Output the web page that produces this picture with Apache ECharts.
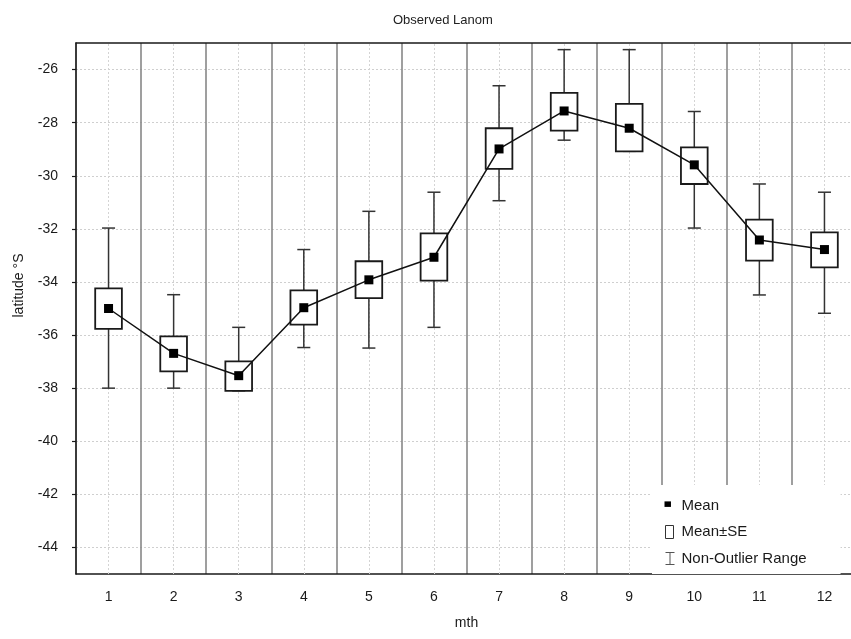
<!DOCTYPE html>
<html>
<head>
<meta charset="utf-8">
<script src="https://cdn.jsdelivr.net/npm/echarts@6/dist/echarts.min.js"></script>
<style>
  html, body { margin: 0; padding: 0; background: #fff; }
  #chart { width: 851px; height: 639px; }
</style>
</head>
<body>
<div id="chart"></div>
<script>
// ---- data ----
const months = ['1', '2', '3', '4', '5', '6', '7', '8', '9', '10', '11', '12'];
const means = [-35.00, -36.69, -37.53, -34.97, -33.92, -33.07, -28.99, -27.56, -28.21, -29.59, -32.42, -32.78];
const seLow = [-35.77, -37.37, -38.10, -35.61, -34.61, -33.95, -29.74, -28.30, -29.08, -30.31, -33.20, -33.45];
const seHigh = [-34.24, -36.05, -36.99, -34.32, -33.22, -32.17, -28.21, -26.88, -27.29, -28.93, -31.65, -32.13];
const rangeMin = [-38.00, -38.00, -38.10, -36.47, -36.49, -35.71, -30.94, -28.66, -29.08, -31.97, -34.49, -35.18];
const rangeMax = [-31.97, -34.48, -35.71, -32.78, -31.34, -30.62, -26.61, -25.25, -25.25, -27.58, -30.31, -30.62];
const yTicks = [-44, -42, -40, -38, -36, -34, -32, -30, -28, -26];

const FONT = '"Liberation Sans", Arial, sans-serif';
const chart = echarts.init(document.getElementById('chart'));

const whiskerData = months.map((m, i) => [i, rangeMin[i], rangeMax[i]]);
const boxData = months.map((m, i) => [i, seLow[i], seHigh[i]]);

const option = {
  animation: false,
  backgroundColor: '#fff',
  title: {
    text: 'Observed Lanom',
    left: 388, top: 9,
    textStyle: { fontFamily: FONT, fontSize: 13, fontWeight: 'normal', color: '#222' }
  },
  grid: { left: 76, top: 43, width: 781, height: 531, containLabel: false, outerBoundsMode: 'none' },
  legend: {
    orient: 'vertical', left: 652, top: 485,
    padding: [12, 34, 6, 10], itemGap: 8, itemWidth: 12, itemHeight: 14,
    backgroundColor: '#fff', selectedMode: false,
    textStyle: { fontFamily: FONT, fontSize: 15, color: '#1a1a1a', lineHeight: 18 },
    data: [
      { name: 'Mean', icon: 'path://M0,0M12,14M-1,2L6,2L6,8L-1,8Z', itemStyle: { color: '#000', borderWidth: 0 } },
      { name: 'Mean±SE', icon: 'path://M0,0M12,14M1,0.5L9,0.5L9,13.5L1,13.5Z', itemStyle: { color: '#fff', borderColor: '#333', borderWidth: 1 } },
      { name: 'Non-Outlier Range', icon: 'path://M0,0M12,14M1,1L10,1M5.5,1L5.5,13M1,13L10,13', itemStyle: { color: 'none', borderColor: '#555', borderWidth: 1 } }
    ]
  },
  xAxis: [
    {
      type: 'category', data: months, position: 'bottom', boundaryGap: true,
      axisLine: { lineStyle: { color: '#1a1a1a', width: 1.5 } },
      axisTick: { inside: true, alignWithLabel: true, length: 4, lineStyle: { color: '#1a1a1a', width: 1.2 } },
      axisLabel: { fontFamily: FONT, fontSize: 14, color: '#1a1a1a', margin: 16 },
      splitLine: { show: true, lineStyle: { color: '#878787', width: 1.6 } },
      name: 'mth', nameLocation: 'middle', nameGap: 42,
      nameTextStyle: { fontFamily: FONT, fontSize: 14, color: '#1a1a1a' }
    },
    {
      type: 'category', data: months, position: 'bottom', boundaryGap: true,
      axisLine: { show: false },
      axisTick: { inside: true, alignWithLabel: false, length: 4, lineStyle: { color: '#1a1a1a', width: 1.2 } },
      axisLabel: { show: false }, splitLine: { show: false }
    },
    {
      type: 'category', data: months, position: 'top', boundaryGap: true,
      axisLine: { lineStyle: { color: '#1a1a1a', width: 1.5 } },
      axisTick: { inside: true, alignWithLabel: true, length: 4, lineStyle: { color: '#1a1a1a', width: 1.2 } },
      axisLabel: { show: false }, splitLine: { show: false }
    }
  ],
  yAxis: {
    type: 'value', min: -45, max: -25,
    axisLine: { show: true, lineStyle: { color: '#1a1a1a', width: 1.5 } },
    axisTick: { show: true, inside: false, length: 4, customValues: yTicks, lineStyle: { color: '#1a1a1a', width: 1.2 } },
    axisLabel: { fontFamily: FONT, fontSize: 14, color: '#1a1a1a', margin: 18, customValues: yTicks },
    splitLine: { show: true, lineStyle: { color: '#cfcfcf', width: 1, type: [2, 2] } },
    name: 'latitude °S', nameLocation: 'middle', nameGap: 50,
    nameTextStyle: { fontFamily: FONT, fontSize: 14, color: '#1a1a1a', padding: [0, 0, 0, 46] }
  },
  series: [
    {
      name: 'Non-Outlier Range', type: 'custom', z: 2,
      data: whiskerData,
      itemStyle: { color: '#333' },
      renderItem: function (params, api) {
        const x = api.value(0);
        const lo = api.coord([x, api.value(1)]);
        const hi = api.coord([x, api.value(2)]);
        const cap = api.size([1, 0])[0] * 0.2;
        const st = { stroke: '#333', lineWidth: 1.5, fill: null };
        return {
          type: 'group', children: [
            { type: 'line', shape: { x1: lo[0], y1: lo[1], x2: hi[0], y2: hi[1] }, style: st },
            { type: 'line', shape: { x1: lo[0] - cap / 2, y1: lo[1], x2: lo[0] + cap / 2, y2: lo[1] }, style: st },
            { type: 'line', shape: { x1: hi[0] - cap / 2, y1: hi[1], x2: hi[0] + cap / 2, y2: hi[1] }, style: st }
          ]
        };
      },
      markLine: {
        silent: true, z: 1, symbol: ['none', 'none'],
        label: { show: false },
        lineStyle: { color: '#d4d4d4', width: 1, type: [2, 2] },
        emphasis: { disabled: true },
        data: months.map(m => ({ xAxis: m }))
      }
    },
    {
      name: 'Mean±SE', type: 'custom', z: 3,
      data: boxData,
      itemStyle: { color: '#fff', borderColor: '#222' },
      renderItem: function (params, api) {
        const x = api.value(0);
        const lo = api.coord([x, api.value(1)]);
        const hi = api.coord([x, api.value(2)]);
        const w = api.size([1, 0])[0] * 0.41;
        return {
          type: 'rect',
          shape: { x: lo[0] - w / 2, y: hi[1], width: w, height: lo[1] - hi[1] },
          style: { fill: '#fff', stroke: '#1a1a1a', lineWidth: 1.8 }
        };
      }
    },
    {
      name: 'Mean', type: 'line', z: 4,
      data: means,
      symbol: 'rect', symbolSize: 9,
      itemStyle: { color: '#000' },
      lineStyle: { color: '#111', width: 1.5 }
    }
  ]
};
chart.setOption(option);
</script>
</body>
</html>
